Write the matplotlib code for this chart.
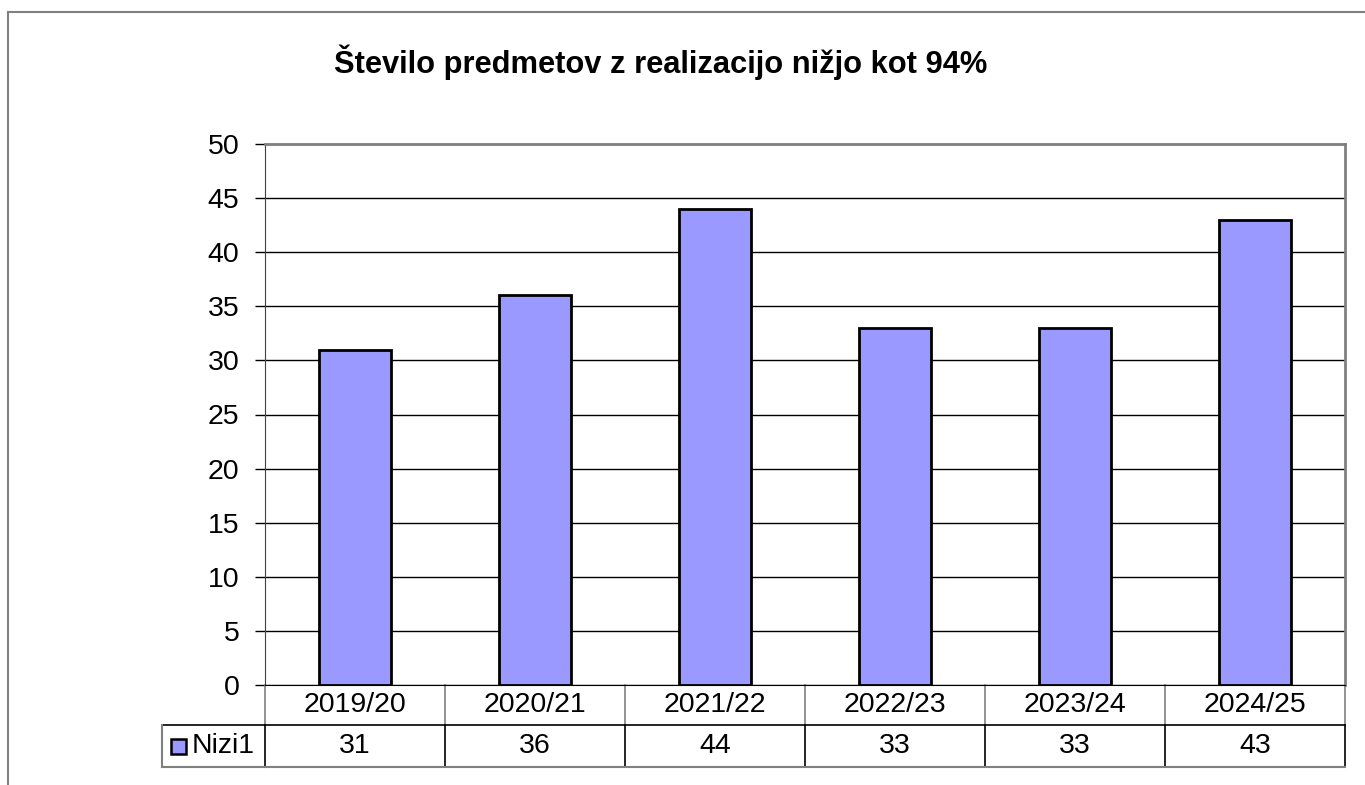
import matplotlib
matplotlib.use("Agg")
import matplotlib.pyplot as plt
from matplotlib.lines import Line2D
from matplotlib.patches import Rectangle

categories = ["2019/20", "2020/21", "2021/22", "2022/23", "2023/24", "2024/25"]
values = [31, 36, 44, 33, 33, 43]
series_name = "Nizi1"
title = "Število predmetov z realizacijo nižjo kot 94%"
yticks = [0, 5, 10, 15, 20, 25, 30, 35, 40, 45, 50]

plt.rcParams['font.family'] = ['Liberation Sans', 'DejaVu Sans']
FS = 20.5

W, H = 1365, 785
fig = plt.figure(figsize=(W / 100, H / 100), dpi=100)

# outer chart frame (partially visible)
fig.add_artist(Line2D([8 / W, 8 / W], [0, 1 - 12 / H], transform=fig.transFigure, color="#808080", lw=1.5))
fig.add_artist(Line2D([8 / W, 1], [1 - 12 / H, 1 - 12 / H], transform=fig.transFigure, color="#808080", lw=1.5))

L, R, T, B = 265, 1345, 144, 685
ax = fig.add_axes([L / W, 1 - B / H, (R - L) / W, (B - T) / H])

x = list(range(len(categories)))
ax.bar(x, values, width=0.4, color="#9999FF", edgecolor="black", linewidth=2, zorder=3)
ax.set_xlim(-0.5, len(categories) - 0.5)
ax.set_ylim(0, 50)
ax.set_yticks(yticks)
ax.set_yticklabels([str(v) for v in yticks], fontsize=FS)
ax.tick_params(axis="y", direction="out", length=7, width=1, pad=11.5, colors="black")
ax.set_xticks([])
ax.yaxis.grid(True, color="black", linewidth=1)
ax.set_axisbelow(True)
for s in ["top", "right"]:
    ax.spines[s].set_color("#808080")
    ax.spines[s].set_linewidth(2)
ax.spines["left"].set_color("#404040")
ax.spines["bottom"].set_color("black")

fig.text(661 / W, 1 - 62 / H, title, ha="center", va="center", fontsize=22.2, fontweight="bold")

# data table below the axes
ph = B - T
r1 = -40 / ph
r2 = -82 / ph
tb = ax.get_xaxis_transform()
n = len(categories)
kw = dict(transform=tb, clip_on=False)
# vertical separators
for i in range(n + 1):
    xe = i - 0.5
    ax.plot([xe, xe], [0, r1], color="#808080", lw=1.2, **kw)
    ax.plot([xe, xe], [r1, r2], color="black", lw=1.2, **kw)
# horizontal lines
ax.plot([-0.5, n - 0.5], [r1, r1], color="black", lw=1.2, **kw)
ax.plot([-0.5, n - 0.5], [r2, r2], color="#808080", lw=1.5, **kw)
# legend cell
lx0 = (162 - L) / (R - L) * n - 0.5
ax.plot([lx0, -0.5], [r1, r1], color="black", lw=1.2, **kw)
ax.plot([lx0, -0.5], [r2, r2], color="#808080", lw=1.5, **kw)
ax.plot([lx0, lx0], [r1, r2], color="#808080", lw=1.5, **kw)

for i, (c, v) in enumerate(zip(categories, values)):
    ax.text(i, r1 / 2, c, ha="center", va="center", fontsize=FS, **kw)
    ax.text(i, (r1 + r2) / 2, str(v), ha="center", va="center", fontsize=FS, **kw)

# legend key
kx0 = (171 - L) / (R - L) * n - 0.5
kx1 = (186 - L) / (R - L) * n - 0.5
ky = (r1 + r2) / 2
kh = 15 / ph
ax.add_patch(Rectangle((kx0, ky - kh / 2), kx1 - kx0, kh, facecolor="#9999FF", edgecolor="black", lw=1.8, **kw))
tx = (192 - L) / (R - L) * n - 0.5
ax.text(tx, ky, series_name, ha="left", va="center", fontsize=FS, **kw)

fig.savefig("out.png", dpi=100)
